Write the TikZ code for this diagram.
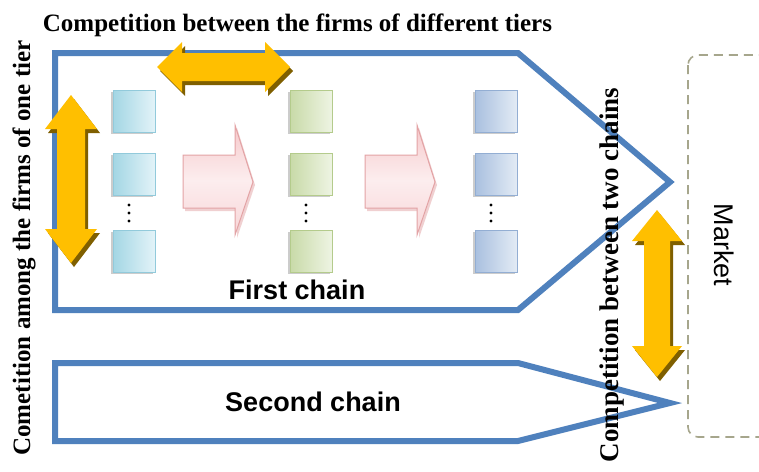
\documentclass[tikz,border=0pt]{standalone}
\usepackage{fontspec}
\setmainfont{Liberation Serif}
\newfontfamily\arialfont{Liberation Sans}
\definecolor{chainblue}{HTML}{4F81BD}
\definecolor{goldfill}{HTML}{FFBF00}
\definecolor{goldshadow}{HTML}{7F5F00}
\definecolor{pinkline}{HTML}{E3A3A5}
\definecolor{pinktop}{HTML}{F6C9CB}
\definecolor{pinkmid}{HTML}{FCEDEE}
\definecolor{pinkbot}{HTML}{F8D6D8}
\definecolor{marketline}{HTML}{A6A68C}
\definecolor{cyanA}{HTML}{A3D6E4}\definecolor{cyanB}{HTML}{E3F3F8}\definecolor{cyanL}{HTML}{92CADB}
\definecolor{greenA}{HTML}{C8DAA8}\definecolor{greenB}{HTML}{EEF4E3}\definecolor{greenL}{HTML}{B4CB8C}
\definecolor{blueA}{HTML}{A9C0DF}\definecolor{blueB}{HTML}{E3EBF5}\definecolor{blueL}{HTML}{93AED3}
\begin{document}
\begin{tikzpicture}[x=1pt,y=-1pt,
  chain/.style={draw=chainblue,line width=6pt,line join=miter},
  chainlabel/.style={font=\arialfont\bfseries\fontsize{27}{30}\selectfont,inner sep=0pt},
  serlabel/.style={font=\bfseries\fontsize{25}{28}\selectfont,inner sep=0pt},
  goldarrow/.style={fill=goldfill},
  goldshade/.style={fill=goldshadow},
  pinkarrow/.style={draw=pinkline,line width=1pt,top color=pinktop,bottom color=pinkbot,middle color=pinkmid},
  firm/.style={minimum size=42pt,inner sep=0pt,line width=0.6pt},
  firmshadow/.style={fill=black,opacity=0.2},
  cyanfirm/.style={firm,draw=cyanL,shading angle=45,left color=cyanA,right color=cyanB},
  greenfirm/.style={firm,draw=greenL,shading angle=45,left color=greenA,right color=greenB},
  bluefirm/.style={firm,draw=blueL,shading angle=45,left color=blueA,right color=blueB},
  dot/.style={fill=black,circle,inner sep=0pt,minimum size=3.4pt}
]
\useasboundingbox (0,0) rectangle (759,471);
\fill[white] (0,0) rectangle (759,471);

% market box
\begin{scope}
\clip (0,0) rectangle (759,471);
\draw[marketline,line width=1.6pt,dash pattern=on 9pt off 6pt,rounded corners=10pt] (688,55) rectangle (800,437);
\end{scope}
\node[font=\arialfont\fontsize{27}{30}\selectfont,rotate=-90,inner sep=0pt] (market) at (724,245) {Market};

% chains
\draw[chain] (55,53) -- (518,53) -- (670,182) -- (518,310) -- (55,310) -- cycle;
\draw[chain] (55,363) -- (518,363) -- (670,403) -- (518,441) -- (55,441) -- cycle;
\node[chainlabel] (first) at (297,290) {First chain};
\node[chainlabel] (second) at (313,402) {Second chain};

% firms
\foreach \col/\x/\st in {c1/134/cyanfirm,c2/311/greenfirm,c3/496/bluefirm}{
  \foreach \row/\y in {1/111,2/174,3/251}{
    \fill[firmshadow] (\x-23,\y-19) rectangle (\x+19,\y+23);
    \node[\st] (\col r\row) at (\x,\y) {};
  }
  \node[dot] (\col d1) at (\x-5,205) {};
  \node[dot] (\col d2) at (\x-5,213) {};
  \node[dot] (\col d3) at (\x-5,221) {};
}

% pink flow arrows
\foreach \s in {0,182}{
  \begin{scope}[xshift=\s pt]
  \fill[pinkline,opacity=0.5] (185,158) -- (237,158) -- (237,128) -- (255,185) -- (237,238) -- (237,211) -- (185,211) -- cycle;
  \path[pinkarrow] (183,155) -- (235,155) -- (235,125) -- (253,182) -- (235,235) -- (235,208) -- (183,208) -- cycle;
  \end{scope}
}

% gold double arrows
\begin{scope}[shift={(3,4)}]
\path[goldshade] (157,67) -- (182,42) -- (182,53) -- (265,53) -- (265,42) -- (290,67) -- (265,92) -- (265,81) -- (182,81) -- (182,92) -- cycle;
\path[goldshade] (71,95) -- (97,129) -- (85,129) -- (85,229) -- (97,229) -- (71,263) -- (45,229) -- (57,229) -- (57,129) -- (45,129) -- cycle;
\path[goldshade] (657,210) -- (682,241) -- (670,241) -- (670,346) -- (682,346) -- (657,377) -- (632,346) -- (644,346) -- (644,241) -- (632,241) -- cycle;
\end{scope}
\path[goldarrow] (157,67) -- (182,42) -- (182,53) -- (265,53) -- (265,42) -- (290,67) -- (265,92) -- (265,81) -- (182,81) -- (182,92) -- cycle;
\path[goldarrow] (71,95) -- (97,129) -- (85,129) -- (85,229) -- (97,229) -- (71,263) -- (45,229) -- (57,229) -- (57,129) -- (45,129) -- cycle;
\path[goldarrow] (657,210) -- (682,241) -- (670,241) -- (670,346) -- (682,346) -- (657,377) -- (632,346) -- (644,346) -- (644,241) -- (632,241) -- cycle;

% labels
\node[serlabel] (title) at (297.5,25) {Competition between the firms of different tiers};
\node[serlabel,rotate=90] (tierlbl) at (24,248) {Cometition among the firms of one tier};
\node[serlabel,rotate=90,font=\bfseries\fontsize{27}{30}\selectfont] (chainslbl) at (612,275) {Competition between two chains};
\end{tikzpicture}
\end{document}
